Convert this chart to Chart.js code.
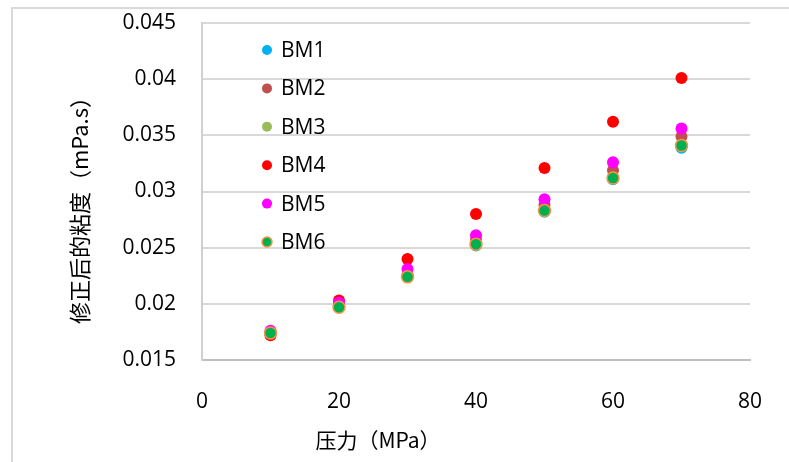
<!DOCTYPE html>
<html>
<head>
<meta charset="utf-8">
<script src="https://cdn.jsdelivr.net/npm/chart.js@4.4.1/dist/chart.umd.min.js"></script>
<style>
  html, body { margin: 0; padding: 0; background: #fff; }
  #wrap { width: 789px; height: 462px; }
</style>
</head>
<body>
<div id="wrap"><canvas id="chart" width="789" height="462"></canvas></div>
<script>
const pressure = [10, 20, 30, 40, 50, 60, 70];
const seriesNames = ['BM1', 'BM2', 'BM3', 'BM4', 'BM5', 'BM6'];
const bm1 = [0.0174, 0.0197, 0.0224, 0.0252, 0.0282, 0.0311, 0.0339];
const bm2 = [0.0174, 0.0198, 0.0226, 0.0257, 0.0288, 0.0319, 0.0349];
const bm3 = [0.0174, 0.0197, 0.0224, 0.0253, 0.0283, 0.0312, 0.0341];
const bm4 = [0.0172, 0.0203, 0.0240, 0.0280, 0.0321, 0.0362, 0.0401];
const bm5 = [0.0176, 0.0201, 0.0231, 0.0261, 0.0293, 0.0326, 0.0356];
const bm6 = [0.0174, 0.0197, 0.0224, 0.0253, 0.0283, 0.0312, 0.0341];
const xTitle = '压力（MPa）';
const yTitle = '修正后的粘度（mPa.s）';

const fills = ['#00B0F0', '#C0504D', '#9BBB59', '#FF0000', '#FF00FF', '#00B050'];
const borders = ['#00B0F0', '#C0504D', '#9BBB59', '#FF0000', '#FF00FF', '#F79646'];
const allValues = [bm1, bm2, bm3, bm4, bm5, bm6];

const datasets = allValues.map((vals, i) => ({
    label: seriesNames[i],
    data: vals.map((v, j) => ({ x: pressure[j], y: v })),
    backgroundColor: fills[i],
    borderColor: borders[i],
    pointRadius: 6,
    pointBorderWidth: i === 5 ? 1.5 : 0,
    showLine: false,
    order: 6 - i
}));

const sansFont = "'Open Sans', 'Noto Sans', sans-serif";
const cjkFont = "'Noto Sans CJK SC', 'Open Sans', sans-serif";

// frame, axis titles and the in-plot legend
const decorPlugin = {
    id: 'decor',
    beforeDraw(chart) {
        const { ctx } = chart;
        ctx.save();
        ctx.strokeStyle = '#d9d9d9';
        ctx.lineWidth = 2;
        ctx.strokeRect(12, 8, 800, 480);
        ctx.restore();
    },
    afterDraw(chart) {
        const { ctx, chartArea } = chart;
        ctx.save();
        ctx.fillStyle = '#000';
        ctx.textAlign = 'center';
        ctx.textBaseline = 'middle';
        ctx.font = '21px ' + cjkFont;
        ctx.fillText(xTitle, 378, 440);

        ctx.font = '22px ' + cjkFont;
        ctx.translate(80, 205);
        ctx.rotate(-Math.PI / 2);
        ctx.fillText(yTitle, 0, 0);
        ctx.restore();

        ctx.save();
        ctx.font = '21px ' + sansFont;
        ctx.textAlign = 'left';
        ctx.textBaseline = 'middle';
        chart.data.datasets.forEach((ds, i) => {
            const y = 50 + i * 38.4;
            const x = chartArea.left + 65;
            ctx.beginPath();
            ctx.arc(x, y, 5, 0, Math.PI * 2);
            ctx.fillStyle = ds.backgroundColor;
            ctx.fill();
            if (ds.pointBorderWidth) {
                ctx.lineWidth = 1.5;
                ctx.strokeStyle = ds.borderColor;
                ctx.stroke();
            }
            ctx.fillStyle = '#000';
            ctx.fillText(ds.label, x + 14, y + 1);
        });
        ctx.restore();
    }
};

new Chart(document.getElementById('chart').getContext('2d'), {
    type: 'scatter',
    data: { datasets },
    options: {
        responsive: false,
        animation: false,
        layout: { padding: { left: 0, top: 23, right: 39, bottom: 0 } },
        plugins: {
            legend: { display: false },
            tooltip: { enabled: false }
        },
        scales: {
            x: {
                type: 'linear',
                min: 0,
                max: 80,
                afterFit(scale) {
                    scale.height = 102;
                    scale.paddingLeft = 0;
                    scale.paddingRight = 0;
                },
                ticks: {
                    stepSize: 20,
                    padding: 29,
                    color: '#000',
                    font: { size: 21, family: sansFont }
                },
                grid: { drawOnChartArea: false, drawTicks: false },
                border: { display: true, color: '#bfbfbf', width: 2 }
            },
            y: {
                min: 0.015,
                max: 0.045,
                afterFit(scale) {
                    scale.width = 202;
                    scale.paddingTop = 0;
                    scale.paddingBottom = 0;
                },
                ticks: {
                    stepSize: 0.005,
                    padding: 26,
                    color: '#000',
                    font: { size: 21, family: sansFont },
                    callback: v => String(parseFloat(v.toFixed(3)))
                },
                grid: { color: '#d9d9d9', lineWidth: 2, drawTicks: false },
                border: { display: true, color: '#d0d0d0', width: 2 }
            }
        }
    },
    plugins: [decorPlugin]
});
</script>
</body>
</html>
